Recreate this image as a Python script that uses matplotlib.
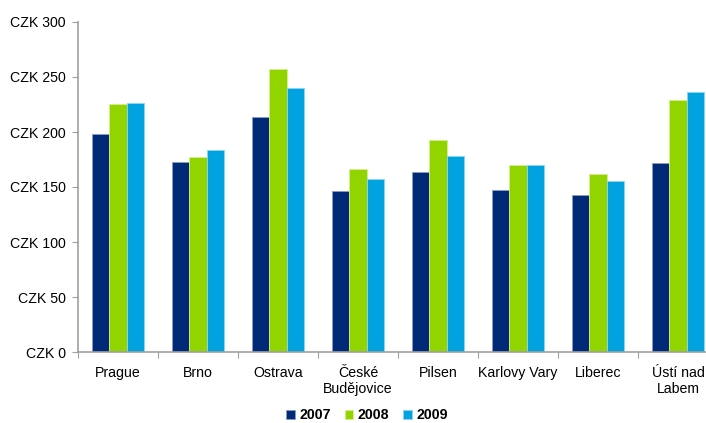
import numpy as np
import matplotlib
matplotlib.use("Agg")
from matplotlib import pyplot as plt

plt.rcParams['font.family'] = ['Liberation Sans', 'DejaVu Sans']

# average prices by city, three years
cities = ["Prague", "Brno", "Ostrava", "České\nBudějovice", "Pilsen",
          "Karlovy Vary", "Liberec", "Ústí nad\nLabem"]
years = ["2007", "2008", "2009"]
v2007 = [198, 173, 214, 146, 164, 147, 143, 172]
v2008 = [225, 177, 257, 166, 193, 170, 162, 229]
v2009 = [226, 184, 240, 157, 178, 170, 155, 236]
yticks = [0, 50, 100, 150, 200, 250, 300]

colors = ["#002a77", "#92d400", "#00a3e0"]
edges = ["#8a9cc4", "#d4f08a", "#8fd6f2"]

fig = plt.figure(figsize=(7.06, 4.23), dpi=100)
# the plot runs past the right border of the image
ax = fig.add_axes([78 / 706, (423 - 352) / 423, 640 / 706, 330 / 423])

x = np.arange(len(cities))
w = 0.22
for i, vals in enumerate([v2007, v2008, v2009]):
    ax.bar(x + (i - 1) * w, vals, w, color=colors[i], edgecolor=edges[i],
           linewidth=0.6, label=years[i], zorder=2)

ax.set_xlim(-0.5, len(cities) - 0.5)
ax.set_ylim(0, 300)
ax.set_yticks(yticks)
ax.set_yticklabels(["CZK %d" % t for t in yticks], fontsize=10.2)

# category names sit between the boundary ticks
ax.set_xticks(np.arange(len(cities) + 1) - 0.5)
ax.set_xticklabels([])
ax.set_xticks(x, minor=True)
ax.set_xticklabels(cities, minor=True, fontsize=10.2, linespacing=1.15)
ax.tick_params(axis='x', which='minor', length=0, pad=10)
ax.tick_params(axis='x', which='major', length=4, direction='out', color='#a0a0a0')
ax.tick_params(axis='y', length=4, direction='out', color='#a0a0a0', pad=5)

for side in ['top', 'right']:
    ax.spines[side].set_visible(False)
for side in ['left', 'bottom']:
    ax.spines[side].set_color('#a0a0a0')
    ax.spines[side].set_linewidth(1.2)

leg = fig.legend(loc='center', bbox_to_anchor=(367 / 706, 1 - 415 / 423), ncol=3,
                 frameon=False, prop={'weight': 'bold', 'size': 10.2},
                 handlelength=0.6, handleheight=0.6, handletextpad=0.3,
                 columnspacing=1.0, borderpad=0.1)

fig.savefig("out.png", dpi=100)
